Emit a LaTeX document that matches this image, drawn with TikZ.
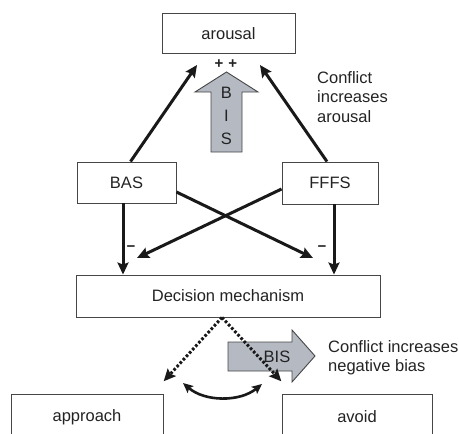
\documentclass[tikz,border=0pt]{standalone}
\usepackage{fontspec}
\setmainfont{Liberation Sans}
\usetikzlibrary{arrows.meta,calc}
\definecolor{txt}{RGB}{35,35,35}
\definecolor{boxline}{RGB}{70,70,70}
\definecolor{bisfill}{RGB}{180,185,194}
\tikzset{
  box/.style={draw=boxline, line width=0.9pt, fill=white, text=txt, inner sep=0pt,
              font=\fontsize{16.5}{19}\selectfont},
  arr/.style={line width=3pt, draw=black!90, -{Stealth[length=12pt,width=11pt,inset=2pt]}},
  dotarr/.style={line width=3pt, draw=black!90, dash pattern=on 2.6pt off 2pt,
              -{Stealth[length=12pt,width=11pt,inset=2pt,sep=1pt]}},
  lbl/.style={text=txt, inner sep=0pt, font=\fontsize{16.5}{19.5}\selectfont},
  sign/.style={text=txt, inner sep=0pt, font=\fontsize{15}{15}\selectfont\bfseries},
  bigarrow/.style={draw=boxline, line width=0.9pt, fill=bisfill},
}
\begin{document}
\begin{tikzpicture}[x=1pt,y=-1pt]
\useasboundingbox (0,0) rectangle (459,434);
% boxes
\node[box, minimum width=133pt, minimum height=40pt] (arousal) at (228.5,33.5) {arousal};
\node[box, minimum width=99pt, minimum height=41pt] (bas) at (126.5,182.5) {BAS};
\node[box, minimum width=96pt, minimum height=42pt] (fffs) at (330,183) {FFFS};
\node[box, minimum width=304pt, minimum height=42pt] (dec) at (228,296) {Decision mechanism};
\node[box, minimum width=152pt, minimum height=46pt] (appr) at (87,417) {approach};
\node[box, minimum width=150pt, minimum height=46pt] (avoid) at (357,417) {avoid};
% BIS up arrow
\draw[bigarrow] (211,152) -- (211,92) -- (195,92) -- (226.5,72) -- (258,92) -- (242,92) -- (242,152) -- cycle;
\node[lbl, align=center, font=\fontsize{16.5}{23}\selectfont] (bisup) at (226.5,115.5) {B\\I\\S};
\node[sign] (plus) at (226,64) {+\,\,+};
% arrows to arousal
\coordinate (t1) at (197,65);
\coordinate (t2) at (260,65);
\draw[arr] ([xshift=4pt]bas.north) -- (t1);
\draw[arr] ([xshift=-3pt]fffs.north) -- (t2);
\node[lbl, align=left, anchor=west] (conf1) at (317,97) {Conflict\\increases\\arousal};
% vertical arrows
\draw[arr] ([xshift=-3.5pt]bas.south) -- ([xshift=-3.5pt]bas.south |- dec.north);
\draw[arr] ([xshift=4pt]fffs.south) -- ([xshift=4pt]fffs.south |- dec.north);
% cross arrows
\coordinate (c1) at (313,258);
\coordinate (c2) at (137,258);
\draw[arr] ([yshift=-9.5pt]bas.east) -- (c1);
\draw[arr] ([yshift=-6pt]fffs.west) -- (c2);
\node[sign] (m1) at (131,249) {−};
\node[sign] (m2) at (322,249) {−};
% BIS right arrow
\draw[bigarrow] (228,342) -- (292,342) -- (292,330) -- (315,356) -- (292,382) -- (292,371) -- (228,371) -- cycle;
\node[lbl] (bisr) at (277,357) {BIS};
% dotted arrows
\coordinate (d1) at (163,382);
\coordinate (d2) at (282,382);
\draw[dotarr] ([xshift=-6pt]dec.south) -- (d1);
\draw[dotarr] ([xshift=-6pt]dec.south) -- (d2);
\node[lbl, align=left, anchor=west] (conf2) at (328,357.5) {Conflict increases\\negative bias};
% curved double arrow
\coordinate (e1) at (183,383);
\coordinate (e2) at (262,384);
\draw[line width=2.6pt, draw=black!90, {Stealth[length=10pt,width=9pt,inset=2pt]}-{Stealth[length=10pt,width=9pt,inset=2pt]}]
  (e1) .. controls (205,402) and (240,402) .. (e2);
\end{tikzpicture}
\end{document}
